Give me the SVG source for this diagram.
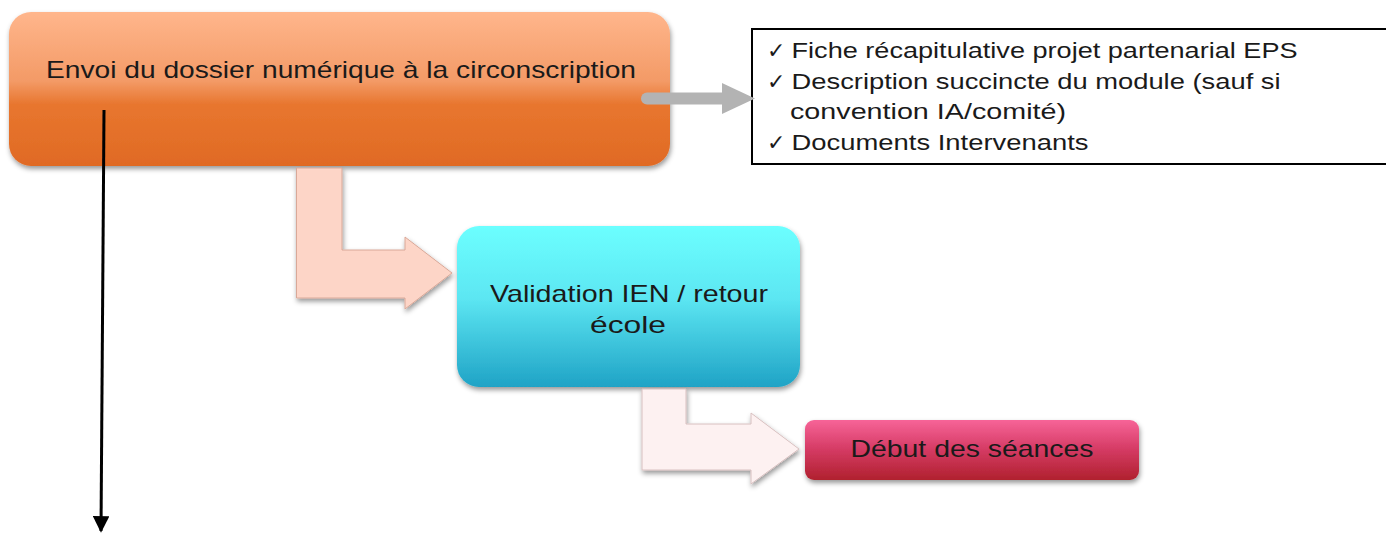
<svg xmlns="http://www.w3.org/2000/svg" width="1386" height="533" viewBox="0 0 1386 533">
<defs>
<linearGradient id="gOrange" x1="0" y1="0" x2="0" y2="1">
<stop offset="0" stop-color="#FFB68C"/><stop offset="0.45" stop-color="#F39A66"/><stop offset="0.6" stop-color="#E8762F"/><stop offset="1" stop-color="#E06A24"/>
</linearGradient>
<linearGradient id="gCyan" x1="0" y1="0" x2="0" y2="1">
<stop offset="0" stop-color="#6CFFFF"/><stop offset="0.45" stop-color="#5CE6F2"/><stop offset="1" stop-color="#1FA3C6"/>
</linearGradient>
<linearGradient id="gPink" x1="0" y1="0" x2="0" y2="1">
<stop offset="0" stop-color="#F76498"/><stop offset="0.5" stop-color="#D43A63"/><stop offset="1" stop-color="#B0212E"/>
</linearGradient>
<filter id="sh" x="-10%" y="-10%" width="120%" height="130%">
<feDropShadow dx="1" dy="3" stdDeviation="2.5" flood-color="#000" flood-opacity="0.4"/>
</filter>
<marker id="ah" viewBox="0 0 10 10" refX="9" refY="5" markerWidth="5.5" markerHeight="5.5" markerUnits="strokeWidth" orient="auto">
<path d="M0,0 L10,5 L0,10 z" fill="#000"/>
</marker>
</defs>
<style>
.t{font-family:"Liberation Sans","DejaVu Sans",sans-serif;fill:#1a1a1a;}
.lbl{font-size:24px;text-anchor:middle;}
.lst{font-size:22px;}
</style>
<g id="node-envoi">
<rect x="9" y="12" width="661" height="154" rx="22" fill="url(#gOrange)" filter="url(#sh)"/>
<text class="t lbl" x="341" y="78" textLength="590" lengthAdjust="spacingAndGlyphs">Envoi du dossier numérique à la circonscription</text>
</g>
<g id="node-liste">
<rect x="752" y="29" width="640" height="135" fill="#fff" stroke="#000" stroke-width="2"/>
<text class="t lst" x="767" y="58">✓ <tspan textLength="506" lengthAdjust="spacingAndGlyphs">Fiche récapitulative projet partenarial EPS</tspan></text>
<text class="t lst" x="767" y="89">✓ <tspan textLength="489" lengthAdjust="spacingAndGlyphs">Description succincte du module (sauf si</tspan></text>
<text class="t lst" x="790" y="119" textLength="276" lengthAdjust="spacingAndGlyphs">convention IA/comité)</text>
<text class="t lst" x="767" y="150">✓ <tspan textLength="297" lengthAdjust="spacingAndGlyphs">Documents Intervenants</tspan></text>
</g>
<g id="node-validation">
<rect x="457" y="226" width="343" height="161" rx="22" fill="url(#gCyan)" filter="url(#sh)"/>
<text class="t lbl" x="629" y="302" textLength="278" lengthAdjust="spacingAndGlyphs">Validation IEN / retour</text>
<text class="t lbl" x="628" y="333" textLength="76" lengthAdjust="spacingAndGlyphs">école</text>
</g>
<g id="node-debut">
<rect x="805" y="420" width="334" height="60" rx="9" fill="url(#gPink)" filter="url(#sh)"/>
<text class="t lbl" x="972" y="457" textLength="243" lengthAdjust="spacingAndGlyphs">Début des séances</text>
</g>
<g id="connectors">
<path d="M296.5,168 L342,168 L342,250 L405,250 L405,237 L452,273 L405,309 L405,298 L296.5,298 Z" fill="#FDD5C7" stroke="#D9A898" stroke-width="1" filter="url(#sh)"/>
<path d="M642,389 L686,389 L686,424 L751,424 L751,413 L799,449 L751,484 L751,470 L642,470 Z" fill="#FDF1F1" stroke="#D8C0C0" stroke-width="1" filter="url(#sh)"/>
<line x1="647" y1="98.5" x2="724" y2="98.5" stroke="#B3B3B3" stroke-width="12" stroke-linecap="round"/>
<path d="M722,83 L755,98.5 L722,114 Z" fill="#B3B3B3"/>
<line x1="104" y1="110" x2="101" y2="531" stroke="#000" stroke-width="3" marker-end="url(#ah)"/>
</g>
</svg>
